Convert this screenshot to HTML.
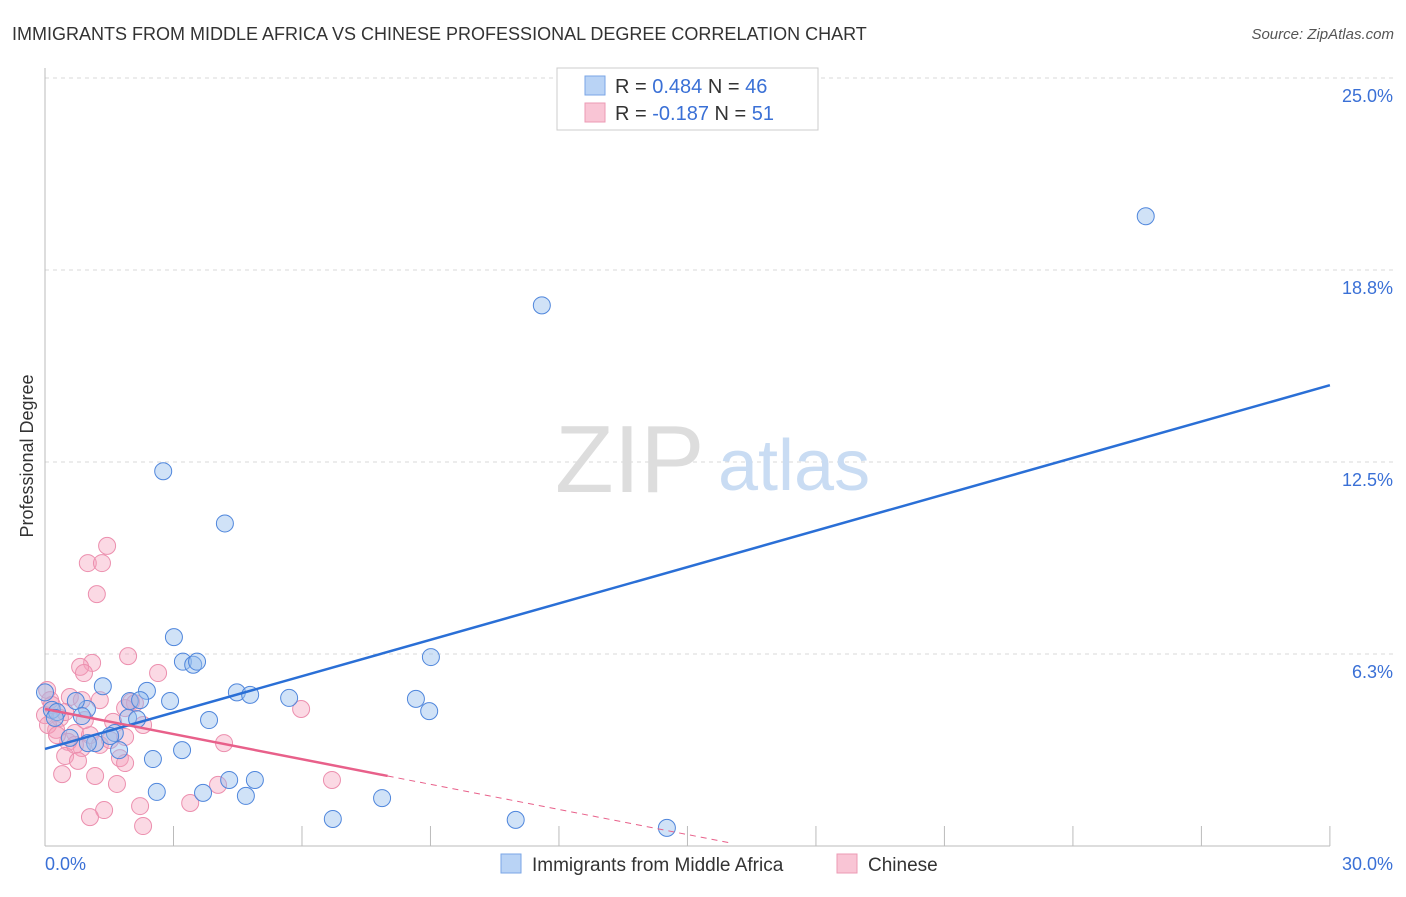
<!DOCTYPE html>
<html><head><meta charset="utf-8"><style>
body{margin:0;background:#fff;font-family:"Liberation Sans",sans-serif;}
svg text{font-family:"Liberation Sans",sans-serif;}
</style></head><body>
<svg id="chart" width="1406" height="892">
<text x="12" y="40" font-size="18" fill="#333">IMMIGRANTS FROM MIDDLE AFRICA VS CHINESE PROFESSIONAL DEGREE CORRELATION CHART</text>
<text x="1394" y="39" font-size="15" fill="#555" text-anchor="end" font-style="italic">Source: ZipAtlas.com</text>
<text x="33" y="456" font-size="18" fill="#333" text-anchor="middle" transform="rotate(-90 33 456)">Professional Degree</text>
<g id="grid"></g>
<text x="555" y="492" font-size="96" fill="#ddd" font-family="Liberation Serif">ZIP</text>
<text x="718" y="490" font-size="72" fill="#c9dcf3">atlas</text>
<g id="pts"></g>
<g id="lines"></g>
<rect x="557" y="68" width="261" height="62" fill="#fff" stroke="#ccc"/>
<rect x="585" y="76" width="20" height="19" fill="#b9d3f5" stroke="#7aa6e6"/>
<rect x="585" y="103" width="20" height="19" fill="#f9c5d5" stroke="#ec9ab4"/>
<text x="615" y="93" font-size="20" fill="#333">R = <tspan fill="#3a70d6">0.484</tspan>   N = <tspan fill="#3a70d6">46</tspan></text>
<text x="615" y="120" font-size="20" fill="#333">R = <tspan fill="#3a70d6">-0.187</tspan>   N = <tspan fill="#3a70d6"> 51</tspan></text>
<rect x="501" y="854" width="20" height="19" fill="#b9d3f5" stroke="#7aa6e6"/>
<text x="532" y="871" font-size="19" fill="#333">Immigrants from Middle Africa</text>
<rect x="837" y="854" width="20" height="19" fill="#f9c5d5" stroke="#ec9ab4"/>
<text x="868" y="871" font-size="19" fill="#333">Chinese</text>
</svg>
<script>
const yTicks=[6.25,12.5,18.75,25];
const yTickLabels=["6.3%","12.5%","18.8%","25.0%"];
const xTicks=[0,3,6,9,12,15,18,21,24,27,30];
const blueX=[25.7,11.6,2.76,4.2,3.01,3.22,3.46,3.55,9.01,1.35,2.38,4.48,4.79,5.7,2.92,1.98,2.22,8.66,8.97,0.16,0.28,0.98,0.72,0.86,1.94,2.15,3.83,0.23,1.63,1.17,1.0,0.58,1.52,1.73,2.52,3.2,4.3,4.9,3.69,2.61,4.69,7.87,6.72,10.99,14.52,0];
const blueY=[20.5,17.6,12.2,10.5,6.8,6.0,5.9,6.0,6.15,5.2,5.05,5.0,4.92,4.82,4.72,4.72,4.75,4.79,4.39,4.43,4.36,4.46,4.72,4.23,4.17,4.13,4.1,4.17,3.68,3.35,3.35,3.52,3.58,3.12,2.83,3.12,2.15,2.15,1.73,1.76,1.63,1.56,0.88,0.85,0.59,5.0];
const pinkX=[1.45,1.0,1.33,1.21,1.94,1.1,0.82,0.91,2.64,0.05,0.12,0.58,0.86,2.01,2.1,1.87,5.98,0,0.35,1.59,2.29,0.26,0.7,1.05,1.87,1.28,0.86,0.54,1.75,1.87,4.18,0.47,1.17,0.4,1.68,4.04,6.7,2.22,3.39,1.38,1.05,2.29,0.7,0.07,0.16,0.28,0.93,0.47,1.52,1.28,0.77];
const pinkY=[9.77,9.21,9.21,8.2,6.18,5.96,5.83,5.63,5.63,5.08,4.75,4.85,4.75,4.69,4.65,4.49,4.46,4.26,4.17,4.04,3.94,3.78,3.68,3.61,3.55,3.29,3.19,3.39,2.86,2.7,3.35,2.93,2.28,2.34,2.02,1.99,2.15,1.30,1.40,1.17,0.94,0.65,3.29,3.94,4.59,3.61,4.1,4.36,3.45,4.75,2.77];
const blueTrend=[[0,3.16],[30,15.0]];
const pinkTrend=[[0,4.46],[8.0,2.28]];
const pinkDash=[[8.0,2.28],[16,0.1]];
const X=v=>45+v*42.83, Y=v=>846-v*30.72;
const NS="http://www.w3.org/2000/svg";
function mk(tag,attrs,parent){const e=document.createElementNS(NS,tag);for(const k in attrs)e.setAttribute(k,attrs[k]);parent.appendChild(e);return e;}
const grid=document.getElementById('grid');
yTicks.forEach((t,i)=>{
 const l=mk('line',{x1:45,x2:1393,y1:Y(t),y2:Y(t),stroke:'#d8d8d8','stroke-dasharray':'4,4'},grid);
 
 
 const tx=mk('text',{x:1393,y:Y(t)+24,'font-size':18,fill:'#3a70d6','text-anchor':'end'},grid);
 tx.textContent=yTickLabels[i];
 
 
});
const ax=mk('line',{x1:45,x2:45,y1:68,y2:846,stroke:'#bbb'},grid);


const bx=mk('line',{x1:45,x2:1330,y1:846,y2:846,stroke:'#bbb'},grid);


xTicks.forEach(t=>{
 const l=mk('line',{x1:X(t),x2:X(t),y1:826,y2:846,stroke:'#bbb'},grid);
 
 
});
const xl0=mk('text',{x:45,y:870,'font-size':18,fill:'#3a70d6'},grid);xl0.textContent='0.0%';


const xl1=mk('text',{x:1393,y:870,'font-size':18,fill:'#3a70d6','text-anchor':'end'},grid);xl1.textContent='30.0%';


const pts=document.getElementById('pts');
pinkX.forEach((v,i)=>{const c=mk('circle',{cx:X(v),cy:Y(pinkY[i]),r:8.5,fill:'rgba(244,160,188,0.4)',stroke:'#ec8fae','stroke-width':1},pts);
 
 });
blueX.forEach((v,i)=>{const c=mk('circle',{cx:X(v),cy:Y(blueY[i]),r:8.5,fill:'rgba(150,190,238,0.45)',stroke:'#4f86dc','stroke-width':1},pts);
 
 });
const lines=document.getElementById('lines');
const bl=mk('line',{x1:X(blueTrend[0][0]),y1:Y(blueTrend[0][1]),x2:X(blueTrend[1][0]),y2:Y(blueTrend[1][1]),stroke:'#2a6fd6','stroke-width':2.5},lines);


const pl=mk('line',{x1:X(pinkTrend[0][0]),y1:Y(pinkTrend[0][1]),x2:X(pinkTrend[1][0]),y2:Y(pinkTrend[1][1]),stroke:'#e8608a','stroke-width':2.5},lines);


const pd=mk('line',{x1:X(pinkDash[0][0]),y1:Y(pinkDash[0][1]),x2:X(pinkDash[1][0]),y2:Y(pinkDash[1][1]),stroke:'#e8608a','stroke-width':1,'stroke-dasharray':'6,5'},lines);


</script>
</body></html>
